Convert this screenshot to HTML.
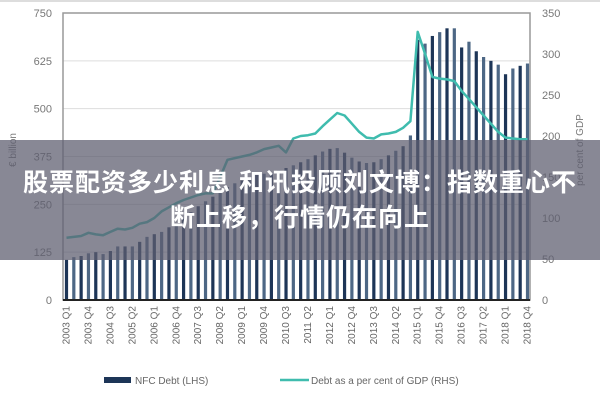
<!DOCTYPE html>
<html><head><meta charset="utf-8"><style>
html,body{margin:0;padding:0;background:#fff;width:600px;height:400px;overflow:hidden;font-family:"Liberation Sans",sans-serif}
#wrap{position:relative;width:600px;height:400px}
#banner{position:absolute;left:0;top:140px;width:600px;height:120px;background:rgba(95,95,112,0.74);color:#fff;font-family:"Liberation Sans","Noto Sans CJK SC",sans-serif;font-weight:bold;font-size:25px;text-align:center;line-height:35px;padding-top:26px;box-sizing:border-box;letter-spacing:1px}
</style></head><body>
<div id="wrap">
<svg id="chart" width="600" height="400"></svg>
<div id="banner">股票配资多少利息 和讯投顾刘文博：指数重心不<br>断上移，行情仍在向上</div>
</div>
<script>
const quarters=[];for(let y=2003;y<=2018;y++)for(let q=1;q<=4;q++)quarters.push(y+' Q'+q);
const debtValues=[105,112,115,122,125,120,128,140,140,140,152,165,172,178,190,200,215,230,245,258,270,285,295,305,312,320,328,330,332,338,345,352,360,368,378,388,395,397,385,372,362,358,360,368,378,390,402,430,680,670,690,700,710,710,660,675,650,635,625,615,590,605,612,618];
const gdpPctValues=[76,77,78,82,80,79,83,87,86,88,93,95,100,108,113,118,122,125,128,130,130,150,171,173,175,177,180,184,186,188,180,197,200,201,203,212,220,228,225,215,205,198,197,202,203,205,210,218,327,300,272,270,269,267,255,245,235,225,215,205,198,197,196,196];
const leftTicks=[0,125,250,375,500,625,750];
const rightTicks=[0,50,100,150,200,250,300,350];
const NS='http://www.w3.org/2000/svg';
const svg=document.getElementById('chart');
const X0=63,X1=530,Y0=300,Y1=13;
const step=(X1-X0-6)/(quarters.length-1);
function xPos(i){return X0+3.5+i*step;}
function yL(v){return Y0-(v/750)*(Y0-Y1);}
function yR(v){return Y0-(v/350)*(Y0-Y1);}
function mk(t,a){const e=document.createElementNS(NS,t);for(const k in a)e.setAttribute(k,a[k]);svg.appendChild(e);return e;}
// frame
let e=mk('line',{x1:0,y1:1,x2:600,y2:1,stroke:'#ddd','stroke-width':2});

leftTicks.forEach(v=>{
 if(v>0&&v<750){const g=mk('line',{x1:X0,x2:X1,y1:yL(v),y2:yL(v),stroke:'#ddd','stroke-width':1});
 }
 const t=mk('text',{x:52,y:yL(v)+4,'text-anchor':'end','font-size':11,fill:'#777'});t.textContent=v;
 
});
rightTicks.forEach(v=>{
 const t=mk('text',{x:542,y:yR(v)+4,'font-size':11,fill:'#777'});t.textContent=v;
 
});
e=mk('rect',{x:X0,y:Y1,width:X1-X0,height:Y0-Y1,fill:'none',stroke:'#999','stroke-width':1.5});

// bars
debtValues.forEach((v,i)=>{
 const b=mk('rect',{x:xPos(i)-1.6,y:yL(v),width:3.2,height:Y0-yL(v),fill:i%2?'#4d6785':'#1d3557'});
 
});
e=mk('line',{x1:X0,x2:X1,y1:Y0,y2:Y0,stroke:'#222','stroke-width':2});

// line
const pts=gdpPctValues.map((v,i)=>xPos(i).toFixed(1)+','+yR(v).toFixed(1)).join(' ');
e=mk('polyline',{points:pts,fill:'none',stroke:'#3fbcae','stroke-width':2.5,'stroke-linejoin':'round'});

// x labels
quarters.forEach((q,i)=>{if(i%3)return;
 const x=xPos(i)+3;
 const t=mk('text',{x:x,y:306,'font-size':10,fill:'#666','text-anchor':'end',transform:'rotate(-90 '+x+' 306)'});t.textContent=q;
 
});
// axis titles
e=mk('text',{x:16,y:150,'font-size':10,fill:'#777','text-anchor':'middle',transform:'rotate(-90 16 150)'});e.textContent='€ billion';

e=mk('text',{x:583,y:150,'font-size':10,fill:'#777','text-anchor':'middle',transform:'rotate(-90 583 150)'});e.textContent='per cent of GDP';

// legend
e=mk('rect',{x:104,y:377,width:27,height:6,fill:'#1d3557'});

e=mk('text',{x:135,y:384,'font-size':10,fill:'#666'});e.textContent='NFC Debt (LHS)';

e=mk('line',{x1:280,x2:309,y1:380,y2:380,stroke:'#3fbcae','stroke-width':2.5});

e=mk('text',{x:311,y:384,'font-size':10,fill:'#666'});e.textContent='Debt as a per cent of GDP (RHS)';

</script>
</body></html>
